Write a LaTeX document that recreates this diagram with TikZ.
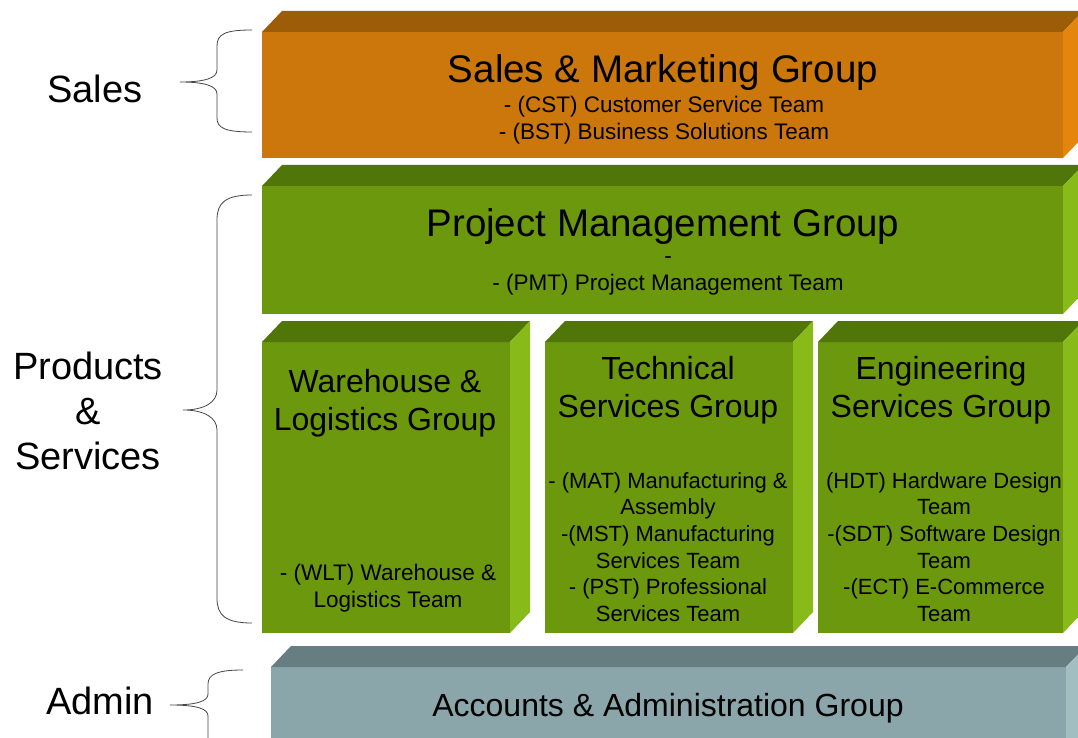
\documentclass[tikz,border=0pt]{standalone}
\usepackage{fontspec}
\setmainfont{Liberation Sans}
\usetikzlibrary{calc}
\definecolor{orF}{RGB}{203,119,12}
\definecolor{orT}{RGB}{156,92,8}
\definecolor{orS}{RGB}{228,134,14}
\definecolor{grF}{RGB}{108,152,14}
\definecolor{grT}{RGB}{80,118,10}
\definecolor{grS}{RGB}{136,186,26}
\definecolor{adF}{RGB}{138,166,170}
\definecolor{adT}{RGB}{102,126,130}
\definecolor{adS}{RGB}{162,190,192}
\definecolor{bracecol}{RGB}{70,70,70}
\newcommand\cubebox[8]{%
  \node[facebox, fill=#6, minimum width=#4pt, minimum height=#5pt] (#1) at (#2,#3) {};
  \fill[#7] (#1.north west) -- ++(20,-21) -- ($(#1.north east)+(20,-21)$) -- (#1.north east) -- cycle;
  \fill[#8] (#1.north east) -- ++(20,-21) -- ($(#1.south east)+(20,-21)$) -- (#1.south east) -- cycle;
}
\begin{document}
\begin{tikzpicture}[x=1pt,y=-1pt,
  facebox/.style={draw=none, anchor=north west, inner sep=0pt, outer sep=0pt},
  bigtitle/.style={align=center, inner sep=0pt, font=\fontsize{38.5}{46}\selectfont},
  midtitle/.style={align=center, inner sep=0pt, font=\fontsize{32}{38}\selectfont},
  subtext/.style={align=center, inner sep=0pt, font=\fontsize{22.5}{27}\selectfont},
  sidelabel/.style={align=center, inner sep=0pt, font=\fontsize{38}{45}\selectfont},
  bracepath/.style={draw=bracecol, line width=0.8pt}]
\useasboundingbox (0,0) rectangle (1078,738);
\clip (0,0) rectangle (1078,738);
\fill[white] (0,0) rectangle (1078,738);

% boxes
\cubebox{sales}{262}{32}{801}{126}{orF}{orT}{orS}
\cubebox{pm}{262}{186}{801}{128}{grF}{grT}{grS}
\cubebox{wh}{262}{342}{248}{291}{grF}{grT}{grS}
\cubebox{tech}{545}{342}{248}{291}{grF}{grT}{grS}
\cubebox{eng}{818}{342}{245}{291}{grF}{grT}{grS}
\cubebox{adm}{271}{667}{795}{100}{adF}{adT}{adS}

% texts
\node[bigtitle] (salesT) at (663,73) {Sales \& Marketing Group};
\node[subtext] (salesS) at (664,120) {- (CST) Customer Service Team\\- (BST) Business Solutions Team};
\node[bigtitle] (pmT) at (663,227) {Project Management Group};
\node[subtext] (pmS) at (668,276) {-\\- (PMT) Project Management Team};
\node[midtitle] (whT) at (385,403) {Warehouse \&\\Logistics Group};
\node[subtext] (whS) at (388,588) {- (WLT) Warehouse \&\\Logistics Team};
\node[midtitle] (techT) at (668,390) {Technical\\Services Group};
\node[subtext, font=\fontsize{22}{26.6}\selectfont] (techS) at (668,547) {- (MAT) Manufacturing \&\\Assembly\\-(MST) Manufacturing\\Services Team\\- (PST) Professional\\Services Team};
\node[midtitle] (engT) at (941,390) {Engineering\\Services Group};
\node[subtext, font=\fontsize{22}{26.6}\selectfont] (engS) at (944,547) {(HDT) Hardware Design\\Team\\-(SDT) Software Design\\Team\\-(ECT) E-Commerce\\Team};
\node[midtitle] (admT) at (668,708) {Accounts \& Administration Group};

% side labels
\node[sidelabel] (lsales) at (95,89) {Sales};
\node[sidelabel] (lprod) at (88,411) {Products\\\&\\Services};
\node[sidelabel] (ladm) at (100,701) {Admin};

% braces
\coordinate (b1tip) at (180,82);
\coordinate (b1top) at (252,30);
\coordinate (b1bot) at (252,132);
\draw[bracepath] (b1top) .. controls (225,30) and (217,34) .. (217,46) -- (217,70) .. controls (217,78) and (205,82) .. (b1tip)
  .. controls (205,82) and (217,86) .. (217,94) -- (217,118) .. controls (217,128) and (225,132) .. (b1bot);
\coordinate (b2tip) at (183,410);
\coordinate (b2top) at (252,195);
\coordinate (b2bot) at (252,623);
\draw[bracepath] (b2top) .. controls (225,195) and (217,203) .. (217,220) -- (217,390) .. controls (217,402) and (205,410) .. (b2tip)
  .. controls (205,410) and (217,418) .. (217,430) -- (217,598) .. controls (217,615) and (225,623) .. (b2bot);
\coordinate (b3tip) at (170,705);
\coordinate (b3top) at (243,670);
\coordinate (b3bot) at (208,745);
\draw[bracepath] (b3top) .. controls (218,670) and (208,674) .. (208,684) -- (208,694) .. controls (208,701) and (198,705) .. (b3tip)
  .. controls (198,705) and (208,709) .. (208,716) -- (b3bot);
\end{tikzpicture}
\end{document}
